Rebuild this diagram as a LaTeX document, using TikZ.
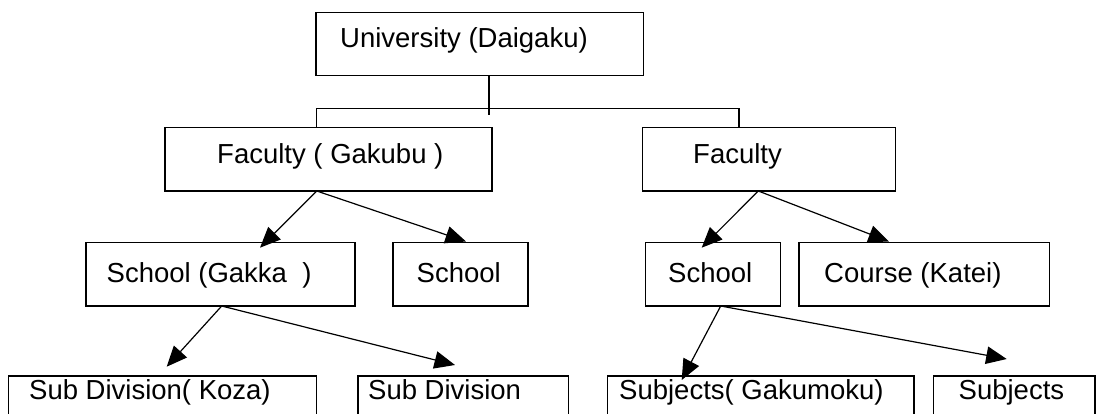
\documentclass[tikz,border=0pt]{standalone}
\usepackage{fontspec}
\setmainfont{Liberation Sans}
\usetikzlibrary{arrows.meta}
\begin{document}
\begin{tikzpicture}[x=1pt,y=-1pt,
  box/.style={draw, line width=1.4pt, rectangle, inner sep=0pt},
  txt/.style={anchor=base west, inner sep=0pt, font=\fontsize{27.5}{30}\selectfont},
  link/.style={line width=1.2pt},
  arr/.style={line width=1.2pt, -{Triangle[length=20.5pt,width=17.5pt]}}]
\useasboundingbox (0,0) rectangle (1099,414);
\clip (0,0) rectangle (1099,414);
\fill[white] (0,0) rectangle (1099,414);

% boxes
\node[box, minimum width=327.3pt, minimum height=63pt] (uni) at (479.65,44.2) {};
\node[box, minimum width=327pt, minimum height=63.7pt] (fac1) at (328.5,159.15) {};
\node[box, minimum width=253pt, minimum height=63.7pt] (fac2) at (769.2,159.15) {};
\node[box, minimum width=269pt, minimum height=63.3pt] (sch1) at (220.5,274.35) {};
\node[box, minimum width=135pt, minimum height=63.3pt] (sch2) at (460.5,274.35) {};
\node[box, minimum width=135pt, minimum height=63.3pt] (sch3) at (713.2,274.35) {};
\node[box, minimum width=250.7pt, minimum height=63.3pt] (course) at (924.35,274.35) {};
\node[box, minimum width=308.3pt, minimum height=64pt] (sub1) at (162.55,408) {};
\node[box, minimum width=210.3pt, minimum height=64pt] (sub2) at (463.15,408) {};
\node[box, minimum width=306.7pt, minimum height=64pt] (subj1) at (760.65,408) {};
\node[box, minimum width=161.7pt, minimum height=64pt] (subj2) at (1014.15,408) {};

% texts
\node[txt] (uniT) at (340,47.5) {University (Daigaku)};
\node[txt] (fac1T) at (217,163.3) {Faculty ( Gakubu )};
\node[txt] (fac2T) at (693,163.3) {Faculty};
\node[txt] (sch1T) at (106.5,282.3) {School (Gakka\ \ )};
\node[txt] (sch2T) at (416.5,282.3) {School};
\node[txt] (sch3T) at (668,282.3) {School};
\node[txt] (courseT) at (824,282.3) {Course (Katei)};
\node[txt] (sub1T) at (29,399) {Sub Division( Koza)};
\node[txt] (sub2T) at (368,399) {Sub Division};
\node[txt] (subj1T) at (619,399) {Subjects( Gakumoku)};
\node[txt] (subj2T) at (958.5,399) {Subjects};

% coordinates
\coordinate (uniB) at (489,75.7);
\coordinate (uniStub) at (489,114.7);
\coordinate (busL) at (316.7,108.3);
\coordinate (busR) at (739,108.3);
\coordinate (f1S) at (316.7,191);
\coordinate (f2S) at (758.3,191);
\coordinate (s1S) at (221.7,306);
\coordinate (s3S) at (720.7,306);
\coordinate (t11) at (260,247.7);
\coordinate (t12) at (466,241.5);
\coordinate (t21) at (701.7,247.7);
\coordinate (t22) at (889,241.5);
\coordinate (t31) at (166.7,366.7);
\coordinate (t32) at (455,365);
\coordinate (t41) at (681.7,380);
\coordinate (t42) at (1006.7,359);

% connectors
\draw[link] (uniB) -- (uniStub);
\draw[link] (busL |- fac1.north) -- (busL) -- (busR) -- (busR |- fac2.north);
\draw[arr] (f1S) -- (t11);
\draw[arr] (f1S) -- (t12);
\draw[arr] (f2S) -- (t21);
\draw[arr] (f2S) -- (t22);
\draw[arr] (s1S) -- (t31);
\draw[arr] (s1S) -- (t32);
\draw[arr] (s3S) -- (t41);
\draw[arr] (s3S) -- (t42);
\end{tikzpicture}
\end{document}
